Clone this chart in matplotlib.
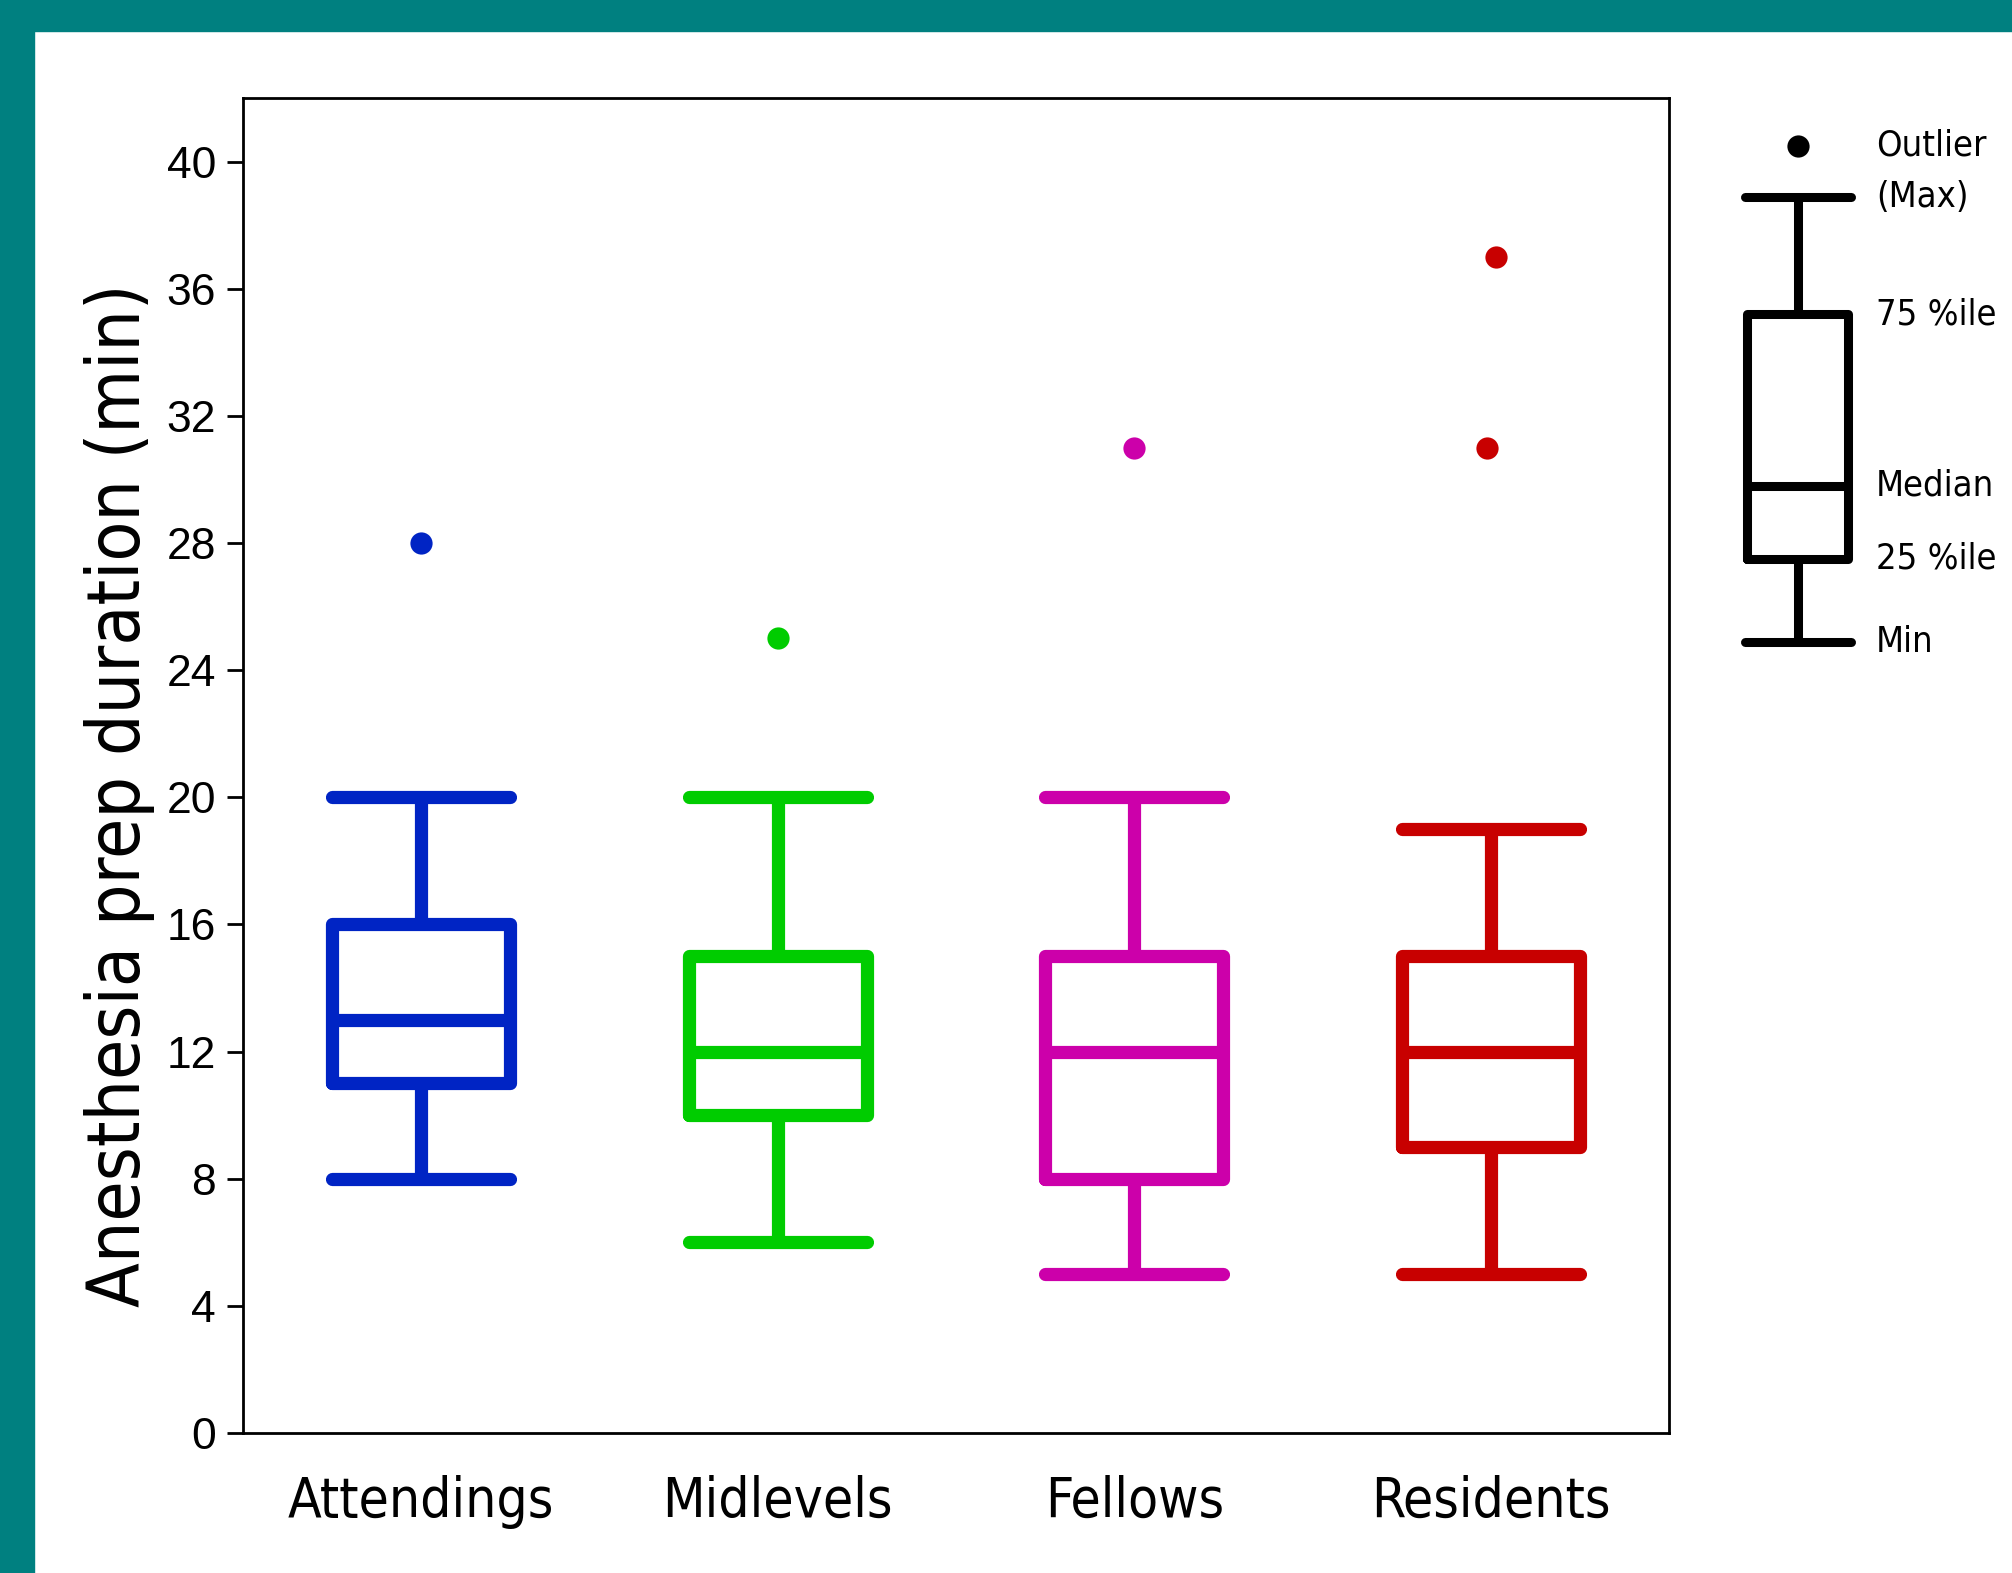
import matplotlib
matplotlib.use('Agg')
import matplotlib.pyplot as plt
from matplotlib.patches import Rectangle

# data (minutes)
groups = ['Attendings', 'Midlevels', 'Fellows', 'Residents']
mins = [8, 6, 5, 5]
q1s = [11, 10, 8, 9]
medians = [13, 12, 12, 12]
q3s = [16, 15, 15, 15]
maxs = [20, 20, 20, 19]
outliers = [[28], [25], [31], [37, 31]]
outlier_jitter = [[0], [0], [0], [0.014, -0.011]]
colors = ['#0024c4', '#00cc00', '#cc00aa', '#c80000']

# the key on the right, in the same y units as the main axes
key_labels = ['Outlier', '(Max)', '75 %ile', 'Median', '25 %ile', 'Min']
key_values = [40.5, 38.9, 35.2, 29.8, 27.5, 24.9]

font = dict(family='DejaVu Sans', stretch='condensed')

fig = plt.figure(figsize=(20.12, 15.73), dpi=100)
fig.patch.set_facecolor('white')

# teal frame on the top and left
fig.add_artist(Rectangle((0, 1 - 31 / 1573), 1, 31 / 1573, transform=fig.transFigure,
                         color='#008080', zorder=0))
fig.add_artist(Rectangle((0, 0), 34 / 2012, 1, transform=fig.transFigure,
                         color='#008080', zorder=0))

ax = fig.add_axes([243 / 2012, 1 - 1433 / 1573, (1669 - 243) / 2012, (1433 - 98) / 1573])

positions = list(range(1, len(groups) + 1))
for i, g in enumerate(groups):
    st = [dict(label=g, whislo=mins[i], q1=q1s[i], med=medians[i], q3=q3s[i],
               whishi=maxs[i], fliers=[])]
    lp = dict(color=colors[i], linewidth=9.5, solid_capstyle='round', solid_joinstyle='round')
    ax.bxp(st, positions=[positions[i]], widths=0.5, capwidths=0.5, showfliers=False,
           boxprops=lp, whiskerprops=lp, capprops=lp, medianprops=lp)
    ax.plot([positions[i] + j for j in outlier_jitter[i]], outliers[i], 'o',
            color=colors[i], markersize=16, markeredgewidth=0)

ax.set_xlim(0.5, 4.5)
ax.set_ylim(0, 42)
ax.set_yticks(range(0, 41, 4))
ax.set_xticks(positions)
ax.set_xticklabels(groups, fontsize=39.5, **font)
ax.tick_params(axis='x', length=0, pad=30)
ax.tick_params(axis='y', length=11.5, width=2, pad=8, labelsize=32)
for lab in ax.get_yticklabels():
    lab.set_family(['Liberation Sans Narrow', 'Liberation Sans'])
for sp in ax.spines.values():
    sp.set_linewidth(2)
ax.set_ylabel('Anesthesia prep duration (min)', fontsize=52.5, **font)
ax.yaxis.set_label_coords(-0.062, 0.478)

# key
kax = fig.add_axes([1720 / 2012, 1 - 1433 / 1573, 292 / 2012, (1433 - 98) / 1573])
kax.set_xlim(0, 1)
kax.set_ylim(0, 42)
kax.axis('off')
kst = [dict(whislo=key_values[5], q1=key_values[4], med=key_values[3], q3=key_values[2],
            whishi=key_values[1], fliers=[])]
kp = dict(color='black', linewidth=6.5, solid_capstyle='round', solid_joinstyle='round')
kax.bxp(kst, positions=[0.267], widths=0.346, capwidths=0.36, showfliers=False,
        boxprops=kp, whiskerprops=kp, capprops=kp, medianprops=kp, manage_ticks=False)
kax.plot([0.267], [key_values[0]], 'o', color='black', markersize=16, markeredgewidth=0)
for lab, v in zip(key_labels, key_values):
    kax.text(0.534, v, lab, fontsize=26, va='center', ha='left', **font)

fig.savefig('out.png', dpi=100)
